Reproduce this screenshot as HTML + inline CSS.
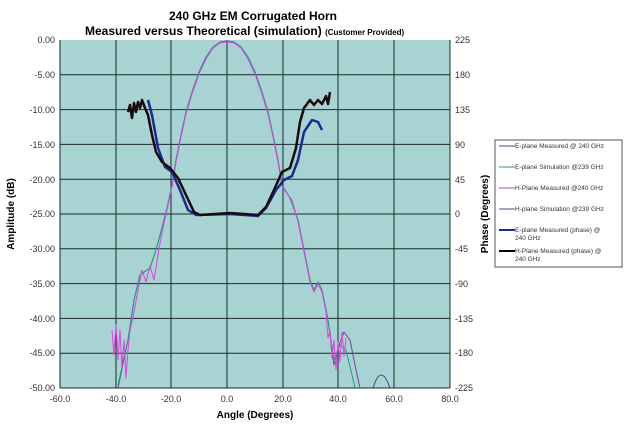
<!DOCTYPE html>
<html><head><style>
body{margin:0;background:#fff;width:630px;height:428px;overflow:hidden;font-family:"Liberation Sans",sans-serif}
</style></head><body>
<svg width="630" height="428" xmlns="http://www.w3.org/2000/svg" font-family="Liberation Sans, sans-serif">
<text x="253" y="20" font-size="12" font-weight="bold" text-anchor="middle">240 GHz EM Corrugated Horn</text>
<text x="85" y="35" font-size="12" font-weight="bold">Measured versus Theoretical (simulation) <tspan font-size="8">(Customer Provided)</tspan></text>
<rect x="60" y="40" width="390" height="348" fill="#a8d3d3"/>
<g stroke="#1a2a2a" stroke-width="1">
<line x1="116" y1="40" x2="116" y2="388"/><line x1="171" y1="40" x2="171" y2="388"/><line x1="227" y1="40" x2="227" y2="388"/><line x1="283" y1="40" x2="283" y2="388"/><line x1="338" y1="40" x2="338" y2="388"/><line x1="394" y1="40" x2="394" y2="388"/>
<line x1="60" y1="74.8" x2="450" y2="74.8"/><line x1="60" y1="109.6" x2="450" y2="109.6"/><line x1="60" y1="144.4" x2="450" y2="144.4"/><line x1="60" y1="179.2" x2="450" y2="179.2"/><line x1="60" y1="214" x2="450" y2="214"/><line x1="60" y1="248.8" x2="450" y2="248.8"/><line x1="60" y1="283.6" x2="450" y2="283.6"/><line x1="60" y1="318.4" x2="450" y2="318.4"/><line x1="60" y1="353.2" x2="450" y2="353.2"/>
<line x1="60" y1="40" x2="60" y2="388"/><line x1="450" y1="40" x2="450" y2="388"/><line x1="60" y1="388" x2="450" y2="388"/>
</g>
<g font-size="9" fill="#333" text-anchor="end">
<text x="55" y="43">0.00</text><text x="55" y="78">-5.00</text><text x="55" y="113">-10.00</text><text x="55" y="148">-15.00</text><text x="55" y="183">-20.00</text><text x="55" y="217">-25.00</text><text x="55" y="252">-30.00</text><text x="55" y="287">-35.00</text><text x="55" y="322">-40.00</text><text x="55" y="356">-45.00</text><text x="55" y="391">-50.00</text>
</g>
<g font-size="9" fill="#333">
<text x="455" y="43">225</text><text x="455" y="78">180</text><text x="455" y="113">135</text><text x="455" y="148">90</text><text x="455" y="183">45</text><text x="455" y="217">0</text><text x="455" y="252">-45</text><text x="455" y="287">-90</text><text x="455" y="322">-135</text><text x="455" y="356">-180</text><text x="455" y="391">-225</text>
</g>
<g font-size="9" fill="#333" text-anchor="middle">
<text x="60" y="402">-60.0</text><text x="116" y="402">-40.0</text><text x="171" y="402">-20.0</text><text x="227" y="402">0.0</text><text x="283" y="402">20.0</text><text x="338" y="402">40.0</text><text x="394" y="402">60.0</text><text x="450" y="402">80.0</text>
</g>
<text x="255" y="418" font-size="10" font-weight="bold" text-anchor="middle">Angle (Degrees)</text>
<text transform="translate(14,214) rotate(-90)" font-size="10" font-weight="bold" text-anchor="middle">Amplitude (dB)</text>
<text transform="translate(488,214) rotate(-90)" font-size="10" font-weight="bold" text-anchor="middle">Phase (Degrees)</text>
<g fill="none" stroke-linejoin="round">
<path d="M118,388 L128,340 L134,300 L140,275 L150,268 L156,250 L162,228 L167,208 L172,185 L176,160 L181,135 L186,112 L192,92 L199,72 L206,57 L213,47 L220,42 L227,41 L234,42 L241,47 L248,57 L255,72 L262,92 L268,112 L273,135 L278,160 L282,185 L290,198 L298,220 L304,250 L310,280 L314,290 L318,282 L322,290 L328,320 L334,365 L338,348 L344,332 L350,340 L356,370 L360,388" stroke="#7a3fa0" stroke-width="1"/>
<path d="M118,385 L128,340 L134,300 L140,275 L150,268 L156,250 L162,228 L167,208 L172,185 L176,160 L181,135 L186,112 L192,92 L199,72 L206,57 L213,47 L220,42 L227,41 L234,42 L241,47 L248,57 L255,72 L262,92 L268,112 L273,135 L278,160 L282,185 L290,198 L298,220 L304,250 L310,280 L314,290 L318,282 L322,290 L328,320 L334,360 L340,345 L346,350 L352,375 L355,388" stroke="#1aa080" stroke-width="1"/>
<path d="M373,388 Q381,362 390,388" stroke="#5a3f90" stroke-width="1"/>
<path d="M112,330 L114,355 L116,325 L118,360 L120,330 L122,368 L124,340 L126,378 L128,350 L130,330 L134,312 L138,290 L142,270 L146,282 L150,266 L154,280 L158,255 L162,232 L167,210 L172,187 L176,162 L181,137 L186,114 L192,94 L199,74 L206,59 L213,48 L220,43 L227,42 L234,43 L241,48 L248,59 L255,74 L262,94 L268,114 L273,137 L278,162 L282,187 L292,200 L298,222 L304,252 L310,282 L314,292 L318,284 L322,292 L326,312 L328,338 L330,330 L332,358 L334,340 L336,370 L338,342 L340,362 L342,332 L344,356 L346,338" stroke="#e040e0" stroke-width="1"/>
<path d="M148,100 L152,115 L158,148 L165,167 L172,172 L180,190 L188,210 L196,215 L230,214 L258,216 L266,208 L276,190 L284,180 L292,176 L298,160 L304,132 L312,120 L318,122 L322,130" stroke="#1a2a90" stroke-width="2.5"/>
<path d="M128,112 L130,105 L132,118 L134,103 L136,112 L138,102 L140,108 L142,100 L145,108 L148,115 L152,135 L156,152 L162,162 L170,168 L178,178 L186,195 L194,212 L200,215 L230,213 L258,215 L266,207 L274,190 L282,172 L290,168 L296,148 L300,122 L304,108 L310,100 L314,105 L318,100 L322,104 L326,96 L328,104 L330,92" stroke="#1a0a0a" stroke-width="2.5"/>
</g>
<rect x="495" y="140" width="127" height="127" fill="#fff" stroke="#555"/>
<g font-size="6.5" fill="#333">
<line x1="499" y1="146" x2="515" y2="146" stroke="#5a3f90"/><text x="515" y="148">E-plane Measured @ 240 GHz</text>
<line x1="499" y1="167" x2="515" y2="167" stroke="#1aa080"/><text x="515" y="169">E-plane Simulation @239 GHz</text>
<line x1="499" y1="188" x2="515" y2="188" stroke="#c040c0"/><text x="515" y="190">H-Plane Measured @240 GHz</text>
<line x1="499" y1="209" x2="515" y2="209" stroke="#5a3f90"/><text x="515" y="211">H-plane Simulation @239 GHz</text>
<line x1="499" y1="230" x2="515" y2="230" stroke="#1a2a90" stroke-width="2"/><text x="515" y="232">E-plane Measured (phase) @</text><text x="515" y="240">240 GHz</text>
<line x1="499" y1="251" x2="515" y2="251" stroke="#000" stroke-width="2"/><text x="515" y="253">H-Plane Measured (phase) @</text><text x="515" y="261">240 GHz</text>
</g>
</svg>
</body></html>
